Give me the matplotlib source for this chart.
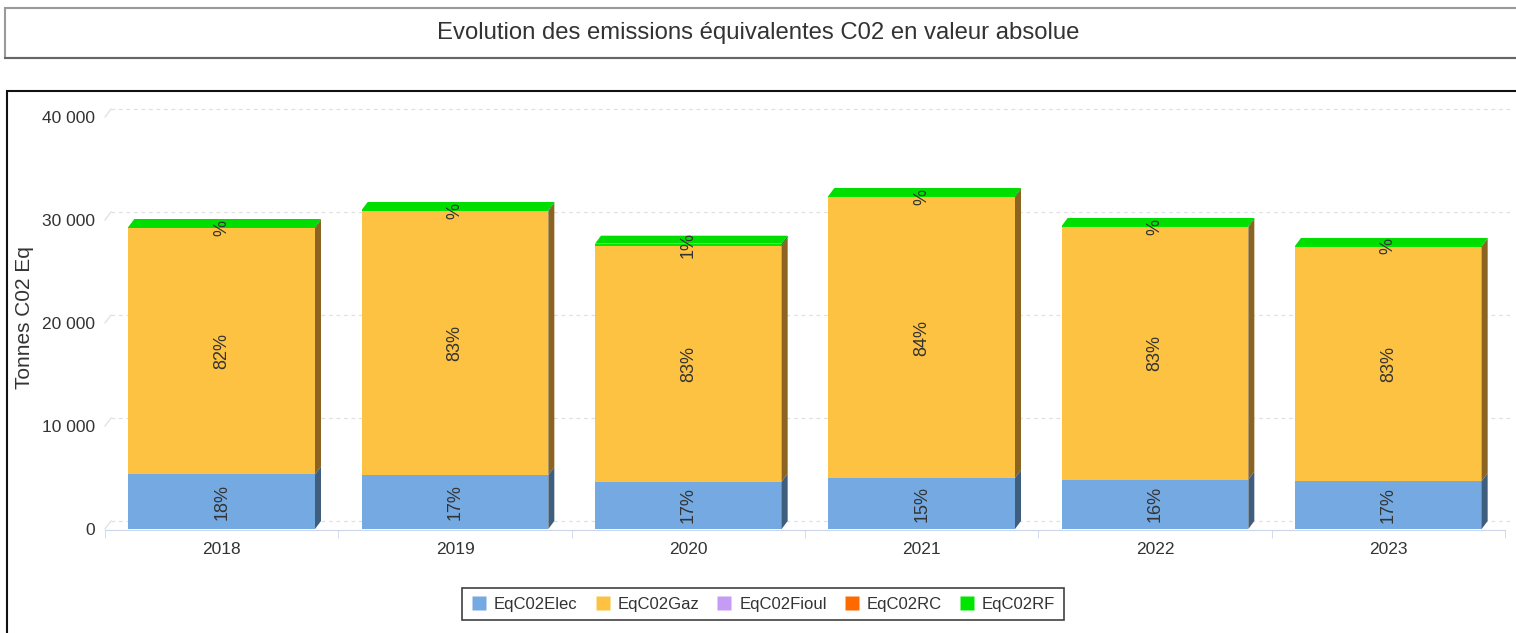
import numpy as np
import matplotlib
matplotlib.use("Agg")
import matplotlib.pyplot as plt
from matplotlib.patches import Polygon, Rectangle
from matplotlib.lines import Line2D

plt.rcParams['font.family'] = ['Liberation Sans', 'DejaVu Sans']

# donnees (tonnes eq CO2)
years = ['2018', '2019', '2020', '2021', '2022', '2023']
elec = [5300, 5250, 4600, 4950, 4800, 4650]
gaz = [23900, 25600, 22900, 27250, 24500, 22750]
fioul = [0, 0, 0, 0, 0, 0]
rc = [0, 0, 0, 0, 0, 0]
rf = [120, 120, 200, 130, 120, 80]

series_names = ['EqC02Elec', 'EqC02Gaz', 'EqC02Fioul', 'EqC02RC', 'EqC02RF']
series_vals = [elec, gaz, fioul, rc, rf]
colors = ['#74a9e1', '#fec242', '#c49cf5', '#ff6a00', '#00e600']
side_colors = ['#3f5d7d', '#8a6420', '#6b5587', '#8c3a00', '#007f00']
top_color = '#00dd00'

W, H = 1516, 633
fig = plt.figure(figsize=(W / 100, H / 100), dpi=100)

# cadres (titre + graphique)
fig.patches.append(Rectangle((5 / W, 1 - 58 / H), 1.0, 50 / H, transform=fig.transFigure,
                             fill=False, edgecolor='#9a9a9a', lw=1.5))
fig.lines.append(Line2D([5 / W, 1], [1 - 58 / H, 1 - 58 / H], transform=fig.transFigure,
                        color='#666666', lw=1.5))
fig.patches.append(Rectangle((7 / W, -0.05), 1.0, 1 - 91 / H + 0.05, transform=fig.transFigure,
                             fill=False, edgecolor='#111111', lw=1.5))
fig.text(0.5, 1 - 33 / H, 'Evolution des emissions équivalentes C02 en valeur absolue',
         ha='center', va='center', fontsize=17.2, color='#333333')

ax = fig.add_axes([105 / W, (H - 529) / H, 1400 / W, 412 / H])
n = len(years)
x = np.arange(n)
ax.set_xlim(-0.5, n - 0.5)
ax.set_ylim(0, 40000)

# profondeur 3D en pixels -> unites de donnees
dx = 6 / (1400 / n)
dy = 8 / (412 / 40000)

# grille (mur du fond)
for v in range(0, 40001, 10000):
    ax.plot([-0.5, -0.5 + dx], [v, v + dy], color='#e0e0e0', lw=0.9, clip_on=False, zorder=0)
    ax.plot([-0.5 + dx, n - 0.5 + dx], [v + dy, v + dy], color='#e0e0e0', lw=0.9,
            ls=(0, (3, 3)), clip_on=False, zorder=0)

width = 0.8
bottom = np.zeros(n)
totals = np.sum(series_vals, axis=0)
for name, vals, c, sc in zip(series_names, series_vals, colors, side_colors):
    vals = np.array(vals, dtype=float)
    ax.bar(x, vals, width, bottom=bottom, color=c, edgecolor='none', zorder=2, label=name)
    for i in range(n):
        if vals[i] <= 0:
            continue
        xr = x[i] + width / 2
        y0, y1 = bottom[i], bottom[i] + vals[i]
        ax.add_patch(Polygon([(xr, y0), (xr + dx, y0 + dy), (xr + dx, y1 + dy), (xr, y1)],
                             closed=True, facecolor=sc, edgecolor='none', zorder=2, clip_on=False))
    bottom += vals

for i in range(n):
    xl, xr = x[i] - width / 2, x[i] + width / 2
    t = totals[i]
    ax.add_patch(Polygon([(xl, t), (xl + dx, t + dy), (xr + dx, t + dy), (xr, t)],
                         closed=True, facecolor=top_color, edgecolor='none', zorder=3, clip_on=False))

# etiquettes de pourcentage
bottom = np.zeros(n)
for name, vals in zip(series_names, series_vals):
    vals = np.array(vals, dtype=float)
    for i in range(n):
        if vals[i] > 0:
            p = int(round(vals[i] / totals[i] * 100))
            txt = f'{p}%' if p > 0 else '%'
            ax.text(x[i], bottom[i] + vals[i] / 2, txt, rotation=90, ha='center', va='center',
                    fontsize=13, color='#333333', zorder=4, clip_on=False)
    bottom += vals

ax.set_xticks(x)
ax.set_xticklabels(years)
ax.set_xticks(np.arange(-0.5, n, 1), minor=True)
ax.tick_params(axis='x', which='major', length=0, labelsize=12.5, pad=8, colors='#333333')
ax.tick_params(axis='x', which='minor', length=6, color='#ccd6eb')
ax.set_yticks(range(0, 40001, 10000))
ax.set_yticklabels(['0', '10 000', '20 000', '30 000', '40 000'])
ax.tick_params(axis='y', length=0, labelsize=12.5, pad=7, colors='#333333')
for s in ['top', 'right', 'left']:
    ax.spines[s].set_visible(False)
ax.spines['bottom'].set_color('#ccd6eb')
ax.spines['bottom'].set_position(('outward', 1))

fig.text(25 / W, 1 - 318 / H, 'Tonnes C02 Eq', rotation=90, ha='center', va='center',
         fontsize=15, color='#333333')

handles = [Line2D([], [], marker='s', ls='none', markersize=10, markerfacecolor=c,
                  markeredgecolor='none') for c in colors]
leg = fig.legend(handles, series_names, loc='center', bbox_to_anchor=(763 / W, 1 - 604 / H),
                 ncol=5, frameon=True, fancybox=False, fontsize=12, handletextpad=0.4,
                 columnspacing=1.0, borderpad=0.5, handlelength=1.0)
leg.get_frame().set_edgecolor('#111111')
leg.get_frame().set_linewidth(1.2)
for t in leg.get_texts():
    t.set_color('#333333')

fig.savefig('out.png', dpi=100)
